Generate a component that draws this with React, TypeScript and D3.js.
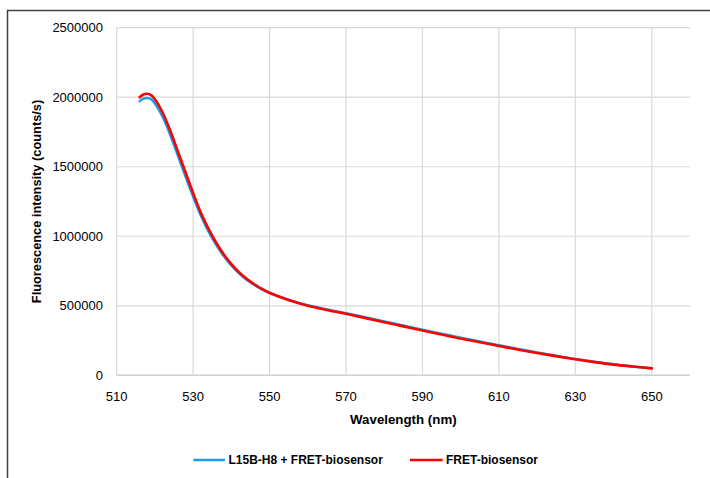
import React from "react";
import * as d3 from "d3";

const wavelengths = [516, 517, 518, 519, 520, 522, 524, 526, 528, 530, 532, 534, 536, 538, 540, 542, 544, 546, 548, 550, 555, 560, 565, 570, 575, 580, 585, 590, 595, 600, 605, 610, 615, 620, 625, 630, 635, 640, 645, 650];

const blueValues = [1972000, 1990000, 1995000, 1985000, 1955000, 1860000, 1730000, 1580000, 1430000, 1285000, 1150000, 1035000, 940000, 858000, 790000, 734000, 687000, 649000, 617000, 591000, 542000, 504000, 474000, 447000, 418000, 388000, 358000, 328000, 299000, 270000, 243000, 216000, 190000, 164000, 140000, 117000, 97000, 79000, 64000, 50000];

const redValues = [2000000, 2020000, 2025000, 2015000, 1985000, 1890000, 1760000, 1610000, 1460000, 1310000, 1170000, 1055000, 955000, 870000, 800000, 742000, 694000, 655000, 621000, 594000, 542000, 501000, 470000, 442000, 412000, 382000, 352000, 322000, 293000, 264000, 238000, 211000, 185000, 160000, 137000, 115000, 95000, 77000, 63000, 50000];

const xTicks = [510, 530, 550, 570, 590, 610, 630, 650];
const yTicks = [0, 500000, 1000000, 1500000, 2000000, 2500000];

const seriesNames = ["L15B-H8 + FRET-biosensor", "FRET-biosensor"];
const seriesColors = ["#1E9BEB", "#FF0000"];

const W = 710;
const H = 478;
const left = 116.7;
const right = 690;
const top = 27.7;
const bottom = 375.3;

export default function App() {
  const x = d3.scaleLinear().domain([510, 660]).range([left, right]);
  const y = d3.scaleLinear().domain([0, 2500000]).range([bottom, top]);
  const line = d3
    .line<[number, number]>()
    .x((d) => x(d[0]))
    .y((d) => y(d[1]))
    .curve(d3.curveCatmullRom.alpha(0.5));

  const series = [blueValues, redValues].map((vals) =>
    wavelengths.map((w, i) => [w, vals[i]] as [number, number])
  );

  const font = "'Liberation Sans', Arial, sans-serif";

  return (
    <svg
      width={W}
      height={H}
      style={{ position: "absolute", left: 0, top: 0, background: "#fff" }}
      fontFamily={font}
    >
      <rect x={0} y={0} width={W} height={H} fill="#fff" />
      <rect x={7.5} y={10.5} width={W + 10} height={H + 10} fill="none" stroke="#404040" strokeWidth={1.5} />

      {yTicks.map((t) => (
        <line
          key={"gy" + t}
          x1={left}
          x2={right}
          y1={y(t)}
          y2={y(t)}
          stroke={t === 0 ? "#cfcfcf" : "#d9d9d9"}
          strokeWidth={t === 0 ? 1.5 : 1.2}
        />
      ))}
      {xTicks.map((t) => (
        <line
          key={"gx" + t}
          x1={x(t)}
          x2={x(t)}
          y1={top}
          y2={bottom}
          stroke="#d9d9d9"
          strokeWidth={1.2}
        />
      ))}

      {yTicks.map((t) => (
        <text
          key={"ty" + t}
          x={103}
          y={y(t)}
          dy="0.35em"
          textAnchor="end"
          fontSize={13}
          fill="#000"
        >
          {t}
        </text>
      ))}
      {xTicks.map((t) => (
        <text
          key={"tx" + t}
          x={x(t)}
          y={396}
          dy="0.35em"
          textAnchor="middle"
          fontSize={13}
          fill="#000"
        >
          {t}
        </text>
      ))}

      <text
        x={(left + right) / 2}
        y={419.5}
        dy="0.35em"
        textAnchor="middle"
        fontSize={13.3}
        fontWeight="bold"
      >
        Wavelength (nm)
      </text>
      <text
        transform={`translate(37, ${(top + bottom) / 2}) rotate(-90)`}
        dy="0.35em"
        textAnchor="middle"
        fontSize={12.8}
        fontWeight="bold"
      >
        Fluorescence intensity (counts/s)
      </text>

      {series.map((s, i) => (
        <path
          key={"s" + i}
          d={line(s) || ""}
          fill="none"
          stroke={seriesColors[i]}
          strokeWidth={i === 0 ? 2.5 : 2.6}
          strokeLinejoin="round"
          strokeLinecap="round"
        />
      ))}

      {[
        { x0: 193.3, x1: 225, tx: 228.5 },
        { x0: 410, x1: 442.7, tx: 446 },
      ].map((p, i) => (
        <g key={"lg" + i}>
          <line x1={p.x0} x2={p.x1} y1={460} y2={460} stroke={seriesColors[i]} strokeWidth={2.5} />
          <text x={p.tx} y={460} dy="0.35em" fontSize={12} fontWeight="bold">
            {seriesNames[i]}
          </text>
        </g>
      ))}
    </svg>
  );
}
